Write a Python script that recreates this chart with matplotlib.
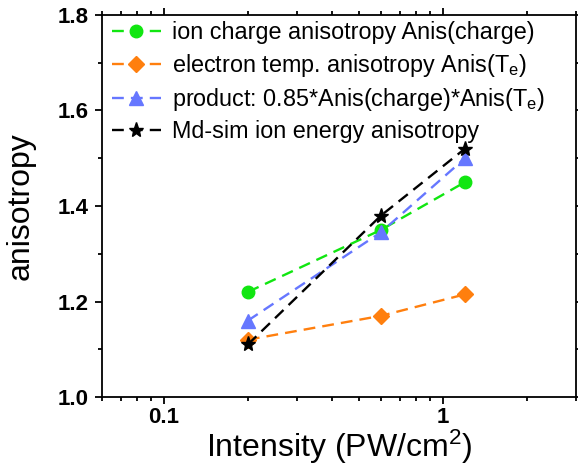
import numpy as np
import matplotlib
matplotlib.use('Agg')
import matplotlib.pyplot as plt
from matplotlib.ticker import LogLocator, FixedLocator, MultipleLocator, NullFormatter

plt.rcParams['font.family'] = ['Liberation Sans', 'DejaVu Sans']
plt.rcParams['mathtext.fontset'] = 'custom'
plt.rcParams['mathtext.rm'] = 'Liberation Sans'
plt.rcParams['mathtext.it'] = 'Liberation Sans'

intensity = [0.2, 0.6, 1.2]
anis_charge = [1.22, 1.35, 1.45]
anis_te = [1.12, 1.17, 1.215]
product = [1.16, 1.345, 1.50]
md_sim = [1.11, 1.38, 1.52]

labels = ['ion charge anisotropy Anis(charge)',
          'electron temp. anisotropy Anis(T$_\\mathregular{e}$)',
          'product: 0.85*Anis(charge)*Anis(T$_\\mathregular{e}$)',
          'Md-sim ion energy anisotropy']
yticks = [1.0, 1.2, 1.4, 1.6, 1.8]

fig = plt.figure(figsize=(5.78, 4.74), dpi=100)
ax = fig.add_axes([0.1765, 0.1624, 0.820, 0.806])

dash = (0, (5, 3))
lw = 1.7
ax.plot(intensity, anis_charge, marker='o', markersize=9, color='#11e611',
        linestyle=dash, linewidth=lw, label=labels[0])
ax.plot(intensity, anis_te, marker='D', markersize=8, color='#ff7f0e',
        linestyle=dash, linewidth=lw, label=labels[1])
ax.plot(intensity, product, marker='^', markersize=9.5, color='#6677ff',
        linestyle=dash, linewidth=lw, label=labels[2])
ax.plot(intensity, md_sim, marker='*', markersize=11, color='black',
        linestyle=dash, linewidth=lw, label=labels[3])

ax.set_xscale('log')
ax.set_xlim(0.06, 3.0)
ax.set_ylim(1.0, 1.8)
ax.xaxis.set_major_locator(FixedLocator([0.1, 1]))
ax.set_xticklabels(['0.1', '1'])
ax.xaxis.set_minor_locator(LogLocator(base=10, subs=np.arange(2, 10)))
ax.xaxis.set_minor_formatter(NullFormatter())
ax.set_yticks(yticks)
ax.set_yticklabels([f'{v:.1f}' for v in yticks])
ax.yaxis.set_minor_locator(MultipleLocator(0.1))

ax.tick_params(which='both', direction='out', top=True, right=True, width=1.3)
ax.tick_params(which='major', length=5, labelsize=16)
ax.tick_params(axis='y', which='major', pad=5)
ax.tick_params(axis='x', which='major', pad=2.5)
ax.tick_params(which='minor', length=3)
for lab in ax.get_xticklabels() + ax.get_yticklabels():
    lab.set_fontweight('bold')
for sp in ax.spines.values():
    sp.set_linewidth(1.3)

ax.set_xlabel('Intensity (PW/cm$^\\mathregular{2}$)', fontsize=23)
ax.xaxis.set_label_coords(0.5, -0.08)
ax.set_ylabel('anisotropy', fontsize=23)
ax.yaxis.set_label_coords(-0.141, 0.5)

ax.legend(loc='upper left', bbox_to_anchor=(0.021, 0.983), frameon=False,
          fontsize=16.8, handlelength=2.1, borderpad=0, borderaxespad=0,
          labelspacing=0.31, handletextpad=0.47)

fig.savefig('out.png', dpi=100)
